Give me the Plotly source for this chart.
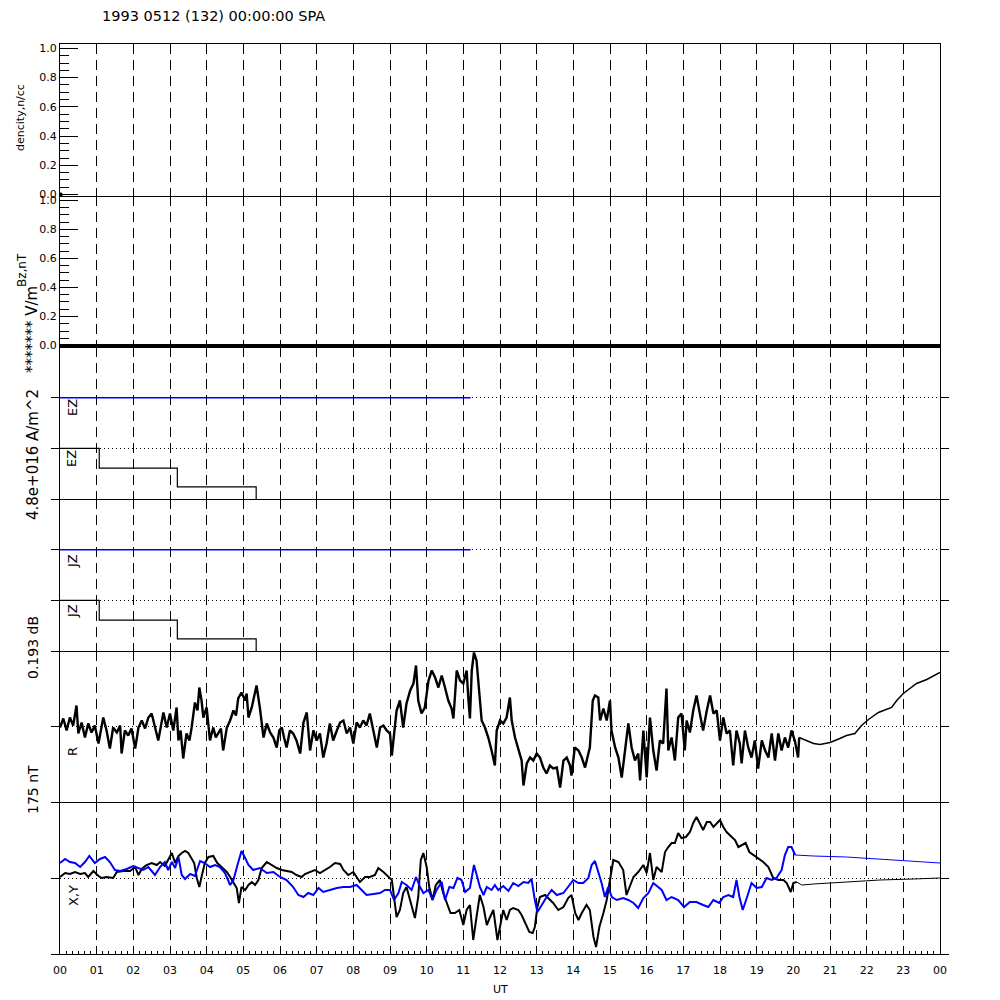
import plotly.graph_objects as go

# ---------------- data ----------------
hour_ticks = list(range(25))
hour_labels = ["%02d" % (h % 24) for h in hour_ticks]

density_t = [0.02]
density_v = [0.0]

bz_t = [0, 24]
bz_v = [0, 0]

ez_ref_t = [0, 11.2]
ez_ref_v = [2, 2]
ez_step_t = [0, 1.07, 3.2, 5.35]
ez_step_v = [1.0, 0.61, 0.24, 0.0]

jz_ref_t = [0, 11.2]
jz_ref_v = [2, 2]
jz_step_t = [0, 1.07, 3.2, 5.35]
jz_step_v = [1.0, 0.61, 0.24, 0.0]

r_t = [0.00, 0.09, 0.18, 0.27, 0.36, 0.45, 0.50, 0.59, 0.68, 0.77, 0.86, 0.95, 1.05, 1.18, 1.27, 1.36,
       1.45, 1.55, 1.64, 1.68, 1.77, 1.86, 1.95, 2.05, 2.14, 2.23, 2.32, 2.41, 2.50, 2.59, 2.68, 2.77,
       2.82, 2.91, 3.00, 3.09, 3.18, 3.23, 3.29, 3.36, 3.45, 3.53, 3.59, 3.68, 3.75, 3.80, 3.86, 3.91,
       4.00, 4.09, 4.18, 4.25, 4.32, 4.39, 4.45, 4.55, 4.64, 4.73, 4.80, 4.86, 4.95, 5.05, 5.09, 5.14,
       5.23, 5.30, 5.36, 5.45, 5.55, 5.64, 5.73, 5.82, 5.91, 5.98, 6.05, 6.11, 6.18, 6.27, 6.36, 6.45,
       6.55, 6.64, 6.73, 6.82, 6.91, 7.00, 7.09, 7.18, 7.27, 7.36, 7.45, 7.55, 7.64, 7.73, 7.82, 7.91,
       8.00, 8.09, 8.18, 8.27, 8.36, 8.45, 8.55, 8.64, 8.73, 8.82, 8.91, 9.00, 9.05, 9.14, 9.18, 9.27,
       9.36, 9.45, 9.55, 9.64, 9.71, 9.77, 9.86, 9.95, 10.05, 10.14, 10.23, 10.32, 10.41, 10.50, 10.59,
       10.68, 10.73, 10.82, 10.91, 11.00, 11.09, 11.14, 11.18, 11.23, 11.29, 11.36, 11.45, 11.50, 11.59,
       11.68, 11.77, 11.86, 11.91, 12.00, 12.09, 12.18, 12.27, 12.32, 12.41, 12.50, 12.59, 12.64, 12.73,
       12.82, 12.91, 13.00, 13.09, 13.18, 13.27, 13.36, 13.45, 13.55, 13.64, 13.73, 13.82, 13.91, 13.95,
       14.04, 14.14, 14.23, 14.32, 14.41, 14.45, 14.53, 14.59, 14.68, 14.73, 14.82, 14.91, 15.00, 15.04,
       15.14, 15.23, 15.32, 15.41, 15.50, 15.59, 15.68, 15.77, 15.82, 15.91, 16.00, 16.09, 16.18, 16.27,
       16.36, 16.45, 16.54, 16.59, 16.68, 16.77, 16.86, 16.95, 17.04, 17.09, 17.18, 17.27, 17.36, 17.45,
       17.54, 17.64, 17.73, 17.82, 17.91, 18.00, 18.09, 18.18, 18.27, 18.36, 18.45, 18.54, 18.59, 18.68,
       18.77, 18.86, 18.95, 19.04, 19.14, 19.23, 19.32, 19.41, 19.50, 19.59, 19.68, 19.77, 19.86, 19.95,
       20.04, 20.13, 20.16]
r_v = [-1, 8, -4, 9, 1, 21, -7, 4, -11, 3, -6, 1, -17, 9, -4, -22,
       -1, -6, 1, -27, -4, -9, -2, -22, -1, 6, -2, 9, 13, -1, -14, 4,
       14, -1, 13, -4, 19, -14, -4, -32, -7, -14, -1, 24, 16, 39, 26, 9,
       19, -14, -1, -11, -7, -2, -24, -1, 6, 16, 11, 28, 34, 26, 33, 9,
       19, 33, 41, 19, -11, 3, -6, -11, -21, -4, -1, -11, -21, -4, -7, -14,
       -27, 4, 14, -24, -4, -14, -7, -31, -17, 3, -14, -4, 4, 6, -7, -1,
       -17, 4, -1, 6, 1, 13, -4, -21, -1, 1, -4, -7, -29, 3, 16, 26,
       -1, 23, 36, 43, 61, 26, 13, 19, 46, 56, 49, 39, 51, 39, 26,
       18, 8, 56, 46, 43, 56, 26, 8, 56, 74, 66, 29, 6, -1,
       -11, -24, -39, -4, 6, 3, 9, 29, 6, -11, -24, -34, -59, -37,
       -31, -34, -27, -31, -41, -47, -39, -42, -41, -61, -34, -31, -39, -49,
       -21, -24, -31, -41, -27, -21, 26, 31, 29, 6, 18, 6, 26, -4,
       -21, -31, -51, -24, 3, -21, -34, -27, -54, -4, -51, 9, -24, -44,
       -14, -17, 38, -24, -11, -34, 9, 13, -24, 6, -6, 16, 31, 13,
       -4, 16, 31, 13, 16, -14, 9, -7, -4, -39, -4, -17, -37, -4,
       -21, -31, -14, -42, -14, -24, -31, -7, -34, -7, -24, -11, -21, -4,
       -14, -31, -11]
r_smooth_t = [20.16, 20.35, 20.55, 20.73, 21.0, 21.27, 21.45, 21.68, 21.86, 22.05, 22.32, 22.68,
              22.82, 23.0, 23.36, 23.64, 24.0]
r_smooth_v = [-11, -14, -17, -18, -16, -12, -9, -7, 1, 7, 14, 19, 26, 33, 43, 47, 54]

x_t = [0.00, 0.14, 0.27, 0.41, 0.55, 0.68, 0.77, 0.91, 1.05, 1.14, 1.27, 1.45, 1.55, 1.73, 1.91, 2.05,
       2.14, 2.23, 2.36, 2.50, 2.64, 2.73, 2.86, 2.95, 3.05, 3.14, 3.23, 3.32, 3.41, 3.50, 3.59, 3.66,
       3.73, 3.80, 3.86, 3.95, 4.05, 4.18, 4.29, 4.41, 4.55, 4.64, 4.73, 4.82, 4.88, 4.95, 5.05, 5.14,
       5.23, 5.32, 5.41, 5.50, 5.64, 5.77, 5.91, 6.05, 6.18, 6.32, 6.45, 6.59, 6.68, 6.82, 6.95, 7.09,
       7.23, 7.36, 7.50, 7.64, 7.73, 7.86, 8.00, 8.09, 8.18, 8.32, 8.45, 8.59, 8.68, 8.82, 8.95, 9.05,
       9.11, 9.18, 9.27, 9.36, 9.45, 9.56, 9.68, 9.77, 9.84, 9.91, 10.00, 10.07, 10.16, 10.25, 10.36,
       10.45, 10.55, 10.65, 10.77, 10.89, 11.00, 11.09, 11.18, 11.27, 11.36, 11.45, 11.55, 11.64, 11.73,
       11.82, 11.93, 12.00, 12.09, 12.18, 12.27, 12.36, 12.50, 12.59, 12.68, 12.80, 12.89, 12.95, 13.02,
       13.09, 13.23, 13.36, 13.45, 13.59, 13.73, 13.86, 13.95, 14.05, 14.14, 14.23, 14.36, 14.45, 14.55,
       14.62, 14.71, 14.82, 14.91, 15.00, 15.09, 15.23, 15.36, 15.45, 15.54, 15.64, 15.77, 15.91, 16.00,
       16.09, 16.18, 16.27, 16.41, 16.50, 16.59, 16.68, 16.77, 16.86, 16.95, 17.07, 17.18, 17.27, 17.36,
       17.45, 17.54, 17.64, 17.73, 17.82, 17.91, 18.00, 18.09, 18.18, 18.32, 18.41, 18.50, 18.59, 18.70,
       18.80, 18.91, 19.05, 19.18, 19.32, 19.45, 19.59, 19.73, 19.82, 19.93, 20.00, 20.09]
x_v = [1, 5, 4, 6, 4, 5, 1, 7, 2, 0, 1, 0, 6, 7, 7, 11,
       3, 9, 13, 15, 13, 16, 12, 18, 25, 15, 22, 25, 27, 25, 20, 15,
       0, -9, 1, 15, 21, 22, 15, 11, 6, 1, -5, -10, -25, -9, -12, -7,
       -4, -7, -2, 10, 16, 13, 10, 8, 7, 6, 3, 1, 4, 6, 8, 5,
       8, 11, 15, 14, 8, 3, 6, 1, -4, 1, 1, 3, 10, 6, 2, -2,
       -19, -39, -32, -15, -9, -25, -40, -19, 18, 25, 11, -9, -22, -7, -2,
       -15, -25, -35, -35, -32, -47, -32, -27, -62, -39, -17, -29, -47, -39,
       -32, -62, -49, -32, -42, -32, -30, -32, -37, -45, -54, -55, -49, -29,
       -19, -17, -22, -25, -32, -29, -20, -17, -35, -42, -35, -27, -32, -59,
       -69, -49, -35, -22, -2, 18, 16, 8, -17, -9, 1, 6, 13, 5,
       25, -2, 11, 6, 26, 31, 35, 35, 45, 40, 41, 46, 55, 61,
       55, 48, 56, 56, 51, 55, 58, 51, 46, 41, 38, 31, 33, 35,
       26, 23, 20, 16, 11, 0, -2, -2, -5, -14, -5, -4]
x_smooth_t = [20.09, 20.23, 20.55, 21.45, 22.36, 23.27, 24.0]
x_smooth_v = [-4, -7, -6, -4, -2, -1, 0]

y_t = [0.00, 0.14, 0.27, 0.41, 0.55, 0.68, 0.80, 0.95, 1.09, 1.23, 1.36, 1.50, 1.64, 1.82, 2.00, 2.14,
       2.27, 2.41, 2.59, 2.73, 2.86, 2.95, 3.05, 3.14, 3.23, 3.32, 3.41, 3.55, 3.68, 3.82, 3.95, 4.09,
       4.23, 4.36, 4.50, 4.64, 4.73, 4.84, 4.95, 5.05, 5.14, 5.27, 5.45, 5.64, 5.82, 6.00, 6.18, 6.36,
       6.50, 6.64, 6.77, 6.91, 7.05, 7.18, 7.36, 7.55, 7.73, 7.91, 8.09, 8.23, 8.36, 8.55, 8.73, 8.86,
       9.00, 9.11, 9.23, 9.32, 9.45, 9.59, 9.71, 9.82, 9.91, 10.05, 10.16, 10.27, 10.41, 10.50, 10.62,
       10.73, 10.84, 10.95, 11.05, 11.18, 11.29, 11.38, 11.45, 11.55, 11.64, 11.77, 11.86, 11.95, 12.09,
       12.23, 12.36, 12.50, 12.64, 12.77, 12.86, 12.95, 13.02, 13.14, 13.27, 13.41, 13.55, 13.73, 13.86,
       14.00, 14.14, 14.27, 14.41, 14.50, 14.59, 14.68, 14.77, 14.86, 14.95, 15.05, 15.18, 15.36, 15.50,
       15.64, 15.77, 15.91, 16.05, 16.18, 16.32, 16.41, 16.54, 16.68, 16.86, 17.02, 17.18, 17.36, 17.54,
       17.68, 17.82, 17.98, 18.09, 18.23, 18.36, 18.45, 18.53, 18.62, 18.73, 18.86, 19.00, 19.14, 19.27,
       19.41, 19.54, 19.68, 19.77, 19.86, 19.95, 20.05]
y_v = [15, 19, 16, 15, 11, 16, 22, 15, 19, 21, 16, 8, 7, 9, 12, 10,
       8, 11, 3, 11, 16, 8, 16, 10, 21, 3, -1, 4, 2, 17, 15, 11,
       13, 11, 5, -7, -2, 13, 27, 20, 13, 8, 10, 5, 6, 1, -2, -9,
       -17, -19, -15, -17, -10, -14, -12, -10, -9, -9, -7, -12, -17, -16, -15, -12,
       -12, -22, -15, -4, -7, -12, 1, -9, -15, -12, -22, -12, -4, -22, -9,
       -10, 0, -2, -14, -10, 13, 1, -9, -17, -9, -12, -7, -12, -8,
       -13, -5, -8, -4, -5, -1, -22, -34, -27, -19, -12, -17, -15, -9,
       -2, -5, -5, 0, 13, 17, 6, -5, -19, -9, -19, -22, -20, -22,
       -25, -30, -20, -15, -5, -9, -12, -22, -19, -22, -29, -24, -24, -27,
       -29, -22, -25, -19, -17, -19, -2, -19, -32, -20, -5, -10, -9, 0,
       -2, 0, 8, 23, 31, 31, 23]
y_smooth_t = [20.05, 20.55, 21.45, 22.36, 23.27, 24.0]
y_smooth_v = [23, 22, 21, 19, 17, 15]

# ---------------- figure ----------------
BLUE = "rgb(0,0,255)"
FONT = "DejaVu Sans"
OFF = 8          # default page margin of the html body
W = 992          # figure size so that page margin + figure = 1000 px window


def px_x(p):
    return (p - OFF) / float(W)


def px_y(p):
    return 1 - (p - OFF) / float(W)


panel_px = [(44, 196), (196, 347), (347, 499), (499, 651), (651, 802), (802, 954)]
doms = [[px_y(b), px_y(t)] for t, b in panel_px]
xdom = [px_x(60), px_x(940)]

fig = go.Figure()


def add(tx, vy, n, **kw):
    fig.add_trace(go.Scatter(x=tx, y=vy, xaxis="x" if n == 1 else "x%d" % n,
                             yaxis="y" if n == 1 else "y%d" % n, showlegend=False,
                             hoverinfo="skip", **kw))


add(density_t, density_v, 1, mode="markers", marker=dict(color="black", size=4))
add(bz_t, bz_v, 2, mode="lines", line=dict(color="black", width=3))
add(ez_ref_t, ez_ref_v, 3, mode="lines", line=dict(color=BLUE, width=1.5))
add(ez_step_t, ez_step_v, 3, mode="lines", line=dict(color="black", width=1.2, shape="hv"))
add(jz_ref_t, jz_ref_v, 4, mode="lines", line=dict(color=BLUE, width=1.5))
add(jz_step_t, jz_step_v, 4, mode="lines", line=dict(color="black", width=1.2, shape="hv"))
add(r_t, r_v, 5, mode="lines", line=dict(color="black", width=2.4))
add(r_smooth_t, r_smooth_v, 5, mode="lines", line=dict(color="black", width=1.5))
add(x_t, x_v, 6, mode="lines", line=dict(color="black", width=2))
add(x_smooth_t, x_smooth_v, 6, mode="lines", line=dict(color="black", width=1))
add(y_t, y_v, 6, mode="lines", line=dict(color=BLUE, width=2))
add(y_smooth_t, y_smooth_v, 6, mode="lines", line=dict(color=BLUE, width=1))

layout = dict(width=W, height=W, margin=dict(l=0, r=0, t=0, b=0, pad=0, autoexpand=False),
              plot_bgcolor="white", paper_bgcolor="white",
              font=dict(family=FONT, size=11, color="black"))

for i in range(1, 7):
    xa = dict(domain=xdom, range=[0, 24], tickmode="array", tickvals=hour_ticks,
              ticktext=hour_labels, showgrid=True, gridcolor="black", gridwidth=1,
              griddash="10px,6px", showline=True, linecolor="black", linewidth=1,
              mirror=(i == 1), zeroline=False, anchor="y" if i == 1 else "y%d" % i,
              showticklabels=False, ticks="", automargin=False)
    if i == 6:
        xa.update(showticklabels=True, ticks="inside", ticklen=5, tickcolor="black",
                  ticklabelstandoff=6, tickfont=dict(family=FONT, size=11),
                  minor=dict(dtick=1 / 6.0, tick0=0, ticks="inside", ticklen=3,
                             tickcolor="black", showgrid=False))
    else:
        xa["matches"] = "x6"
    layout["xaxis" if i == 1 else "xaxis%d" % i] = xa

for i in (1, 2):
    ya = dict(domain=doms[i - 1], range=[-0.01, 1.03], tickmode="array",
              tickvals=[0, 0.2, 0.4, 0.6, 0.8, 1.0],
              ticktext=["0.0", "0.2", "0.4", "0.6", "0.8", "1.0"],
              ticks="inside", ticklen=18, tickcolor="black",
              minor=dict(dtick=0.05, tick0=0, ticks="inside", ticklen=9, tickcolor="black",
                         showgrid=False),
              showline=True, linecolor="black", mirror=True, showgrid=False, zeroline=False,
              tickfont=dict(family=FONT, size=11), anchor="x" if i == 1 else "x%d" % i,
              automargin=False)
    layout["yaxis" if i == 1 else "yaxis%d" % i] = ya

for i, rng, tv in ((3, [0, 3], [0, 1, 2]), (4, [0, 3], [0, 1, 2]),
                   (5, [-75.5, 75.5], [-75.5, 0]), (6, [-76, 76], [-76, 0])):
    ya = dict(domain=doms[i - 1], range=rng, tickmode="array", tickvals=tv,
              showticklabels=False, ticks="outside", ticklen=8, tickcolor="black",
              showline=True, linecolor="black", mirror="ticks",
              showgrid=True, gridcolor="black", gridwidth=1, griddash="1px,3px",
              zeroline=False, anchor="x%d" % i, automargin=False)
    layout["yaxis%d" % i] = ya


def ann(text, xpx, ypx, size, angle=-90, xanchor="center"):
    return dict(text=text, x=px_x(xpx), y=px_y(ypx), xref="paper", yref="paper",
                showarrow=False, textangle=angle, xanchor=xanchor, yanchor="middle",
                font=dict(family=FONT, size=size, color="black"))


layout["annotations"] = [
    ann("1993 0512 (132) 00:00:00 SPA", 100, 16, 14.5, angle=0, xanchor="left"),
    ann("dencity,n/cc", 21, 118, 11),
    ann("Bz,nT", 22, 270, 12),
    ann("******* V/m", 32, 330, 15),
    ann("4.8e+016 A/m^2", 33, 455, 15),
    ann("EZ", 72, 408, 13),
    ann("EZ", 72, 459, 13),
    ann("JZ", 72, 561, 13),
    ann("JZ", 72, 611, 13),
    ann("0.193 dB", 33, 648, 14),
    ann("R", 72, 752, 13),
    ann("175 nT", 33, 790, 14),
    ann("X,Y", 73, 896, 13),
    ann("UT", 500, 989, 11, angle=0),
]

fig.update_layout(**layout)
fig.write_html("out.html")
